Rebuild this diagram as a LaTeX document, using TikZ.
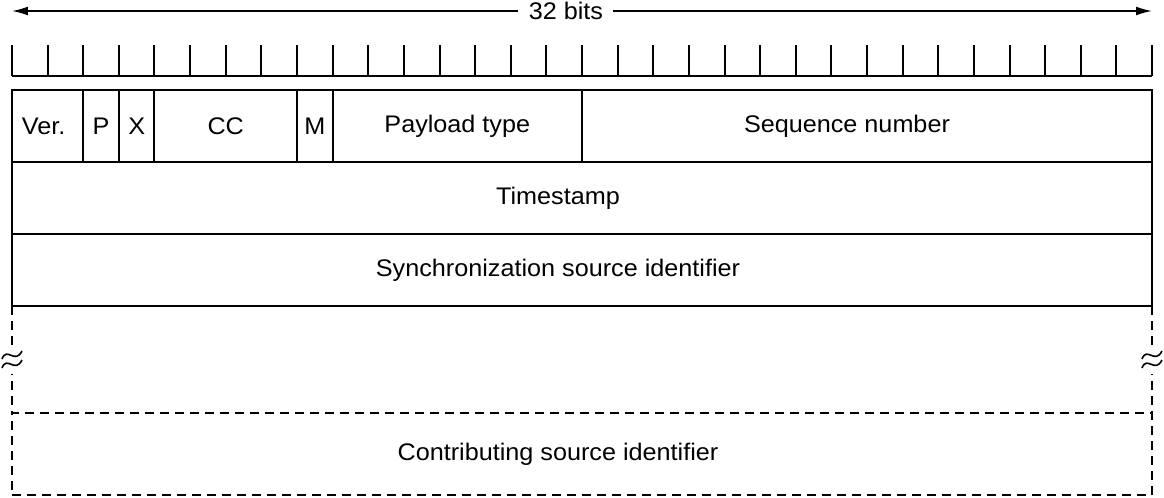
\documentclass[tikz,border=0pt]{standalone}
\usepackage{fontspec}
\setmainfont{Liberation Sans}[FakeStretch=1.05]
\usetikzlibrary{arrows.meta}
\usetikzlibrary{positioning}
\tikzset{field/.style = {draw, line width = 1pt, minimum width = #1*17.8125pt, minimum height = 36pt, inner sep = 0, outer sep = 0, font = \fontsize{12}{14}\selectfont}}
\tikzset{dsh/.style = {line width = 1pt, dash pattern = on 4.5pt off 3pt}}
\tikzset{brk/.pic = {
    \fill [white] (-6pt, -7pt) rectangle (6pt, 7pt);
    \draw [line width = 0.8pt] (-5pt, 0.5pt) .. controls (-2.5pt, 7pt) and (1.5pt, -2.5pt) .. (5pt, 4.5pt);
    \draw [line width = 0.8pt] (-5pt, -4pt) .. controls (-2.5pt, 2.5pt) and (1.5pt, -7pt) .. (5pt, 0pt);
  }}

\begin{document}
\begin{tikzpicture}[x = 17.8125pt, y = -0.5pt]
      \useasboundingbox (-0.33684, 0) rectangle (32.33684, 498);

      % 32 bits
      \coordinate (al) at (0, 11);
      \coordinate (ar) at (32, 11);
      \node [fill = white, inner xsep = 5pt, inner ysep = 0, font = \fontsize{12}{14}\selectfont] (bits) at (15.55, 11) {32 bits};
      \draw [line width = 0.8pt, -{Latex[length = 8pt, width = 4.5pt]}] (bits) -- (al);
      \draw [line width = 0.8pt, -{Latex[length = 8pt, width = 4.5pt]}] (bits) -- (ar);

      % ruler
      \draw [line width = 1pt] (0, 76) -- (32, 76);
      \foreach \b in {0, ..., 32}
        \draw [line width = 1pt] (\b, 45) -- (\b, 76);

      % header
      \node [field = 2, anchor = north west] (ver) at (0, 90) {Ver.\hspace*{4pt}};
      \node [field = 1, right = 0pt of ver] (p) {P};
      \node [field = 1, right = 0pt of p] (x) {X};
      \node [field = 4, right = 0pt of x] (cc) {CC};
      \node [field = 1, right = 0pt of cc] (m) {M};
      \node [field = 7, right = 0pt of m] (pt) {Payload type};
      \node [field = 16, right = 0pt of pt] (seq) {Sequence number\hspace*{20pt}};
      \node [field = 32, anchor = north west] (ts) at (ver.south west) {Timestamp\hspace*{24pt}};
      \node [field = 32, anchor = north west] (ssrc) at (ts.south west) {Synchronization source identifier\hspace*{24pt}};

      % csrc list
      \node [field = 32, minimum height = 41pt, dsh, anchor = south west] (csrc) at (0, 495) {Contributing source identifier\hspace*{24pt}};
      \draw [dsh] (ssrc.south west) -- (csrc.north west);
      \draw [dsh] (ssrc.south east) -- (csrc.north east);
      \pic at (0, 360) {brk};
      \pic at (32, 360) {brk};
    \end{tikzpicture}
\end{document}
